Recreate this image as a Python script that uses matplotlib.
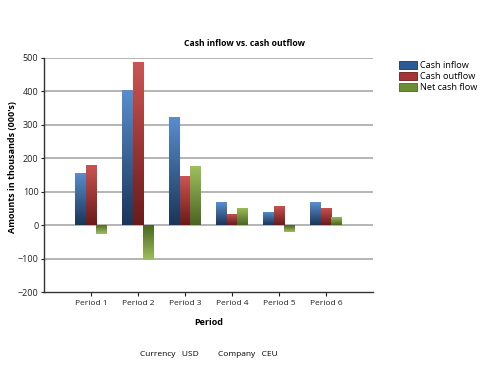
import numpy as np
import matplotlib.pyplot as plt
from matplotlib.colors import LinearSegmentedColormap
from matplotlib.patches import Patch

# Data
periods = ["Period 1", "Period 2", "Period 3", "Period 4", "Period 5", "Period 6"]
cash_inflow = [156, 404, 323, 68, 39, 68]
cash_outflow = [180, 486, 146, 33, 57, 51]
net_cash_flow = [-28, -104, 176, 51, -20, 24]
series_names = ["Cash inflow", "Cash outflow", "Net cash flow"]

# (dark base, light tip, legend swatch) per series
colors = [("#1a3558", "#5a8ed0", "#2d5a96"),
          ("#6a1a1a", "#cc5552", "#a33636"),
          ("#4a6422", "#9fc05e", "#6d8d35")]

plt.rcParams['font.family'] = ['Open Sans', 'DejaVu Sans']

fig = plt.figure(figsize=(4.82, 3.67), dpi=100)
ax = fig.add_axes([44 / 482, 1 - 292 / 367, 329 / 482, (292 - 57.7) / 367])

x = np.arange(1, len(periods) + 1)
width = 0.234
offsets = [-width, 0, width]

for yv in range(-100, 501, 100):
    ax.axhline(yv, color="#b4b4b4", lw=1.4, zorder=0)


def gradient_bar(ax, xc, h, dark, light):
    bar = ax.bar(xc, h, width, color="none", edgecolor="none", zorder=2)[0]
    cmap = LinearSegmentedColormap.from_list("g", [dark, light])
    grad = np.linspace(0, 1, 128).reshape(-1, 1)
    if h < 0:
        grad = grad[::-1]
    img = ax.imshow(grad, cmap=cmap, aspect="auto", origin="lower",
                    extent=[xc - width / 2, xc + width / 2, min(0, h), max(0, h)],
                    zorder=2)
    img.set_clip_path(bar)


for vals, off, c in zip([cash_inflow, cash_outflow, net_cash_flow], offsets, colors):
    for xc, h in zip(x + off, vals):
        gradient_bar(ax, xc, h, c[0], c[1])

ax.set_xlim(0, len(periods) + 1)
ax.set_ylim(-200, 500)

ax.set_xticks(x)
ax.set_xticklabels(periods)
ax.set_yticks(range(-200, 501, 100))
ax.tick_params(axis="x", labelsize=6, colors="#222222", length=3, width=0.8, pad=3)
ax.tick_params(axis="y", labelsize=6.5, colors="#222222", length=2, width=0.8, pad=2)
for s in ["top", "right"]:
    ax.spines[s].set_visible(False)
for s in ["left", "bottom"]:
    ax.spines[s].set_color("#333333")
    ax.spines[s].set_linewidth(1.0)

ax.set_xlabel("Period", fontsize=6.5, fontweight="bold", labelpad=8)
ax.set_ylabel("Amounts in thousands (000's)", fontsize=6.5, fontweight="bold")
ax.yaxis.set_label_coords((17 - 44) / 329, (292 - 167) / (292 - 57.7))
fig.text(245 / 482, 1 - 43 / 367, "Cash inflow vs. cash outflow", ha="center", va="center",
         fontsize=6.2, fontweight="bold")

handles = [Patch(facecolor=c[2], edgecolor=c[0], lw=0.6) for c in colors]
fig.legend(handles, series_names, loc="upper left", bbox_to_anchor=(394 / 482, 1 - 56 / 367),
           frameon=False, fontsize=6.6, handlelength=2.0, handleheight=1.0,
           handletextpad=0.3, labelspacing=0.2, borderpad=0)

fig.text(140 / 482, 1 - 354 / 367, "Currency   USD", ha="left", va="center", fontsize=6)
fig.text(218 / 482, 1 - 354 / 367, "Company   CEU", ha="left", va="center", fontsize=6)

fig.savefig("out.png", dpi=100)
